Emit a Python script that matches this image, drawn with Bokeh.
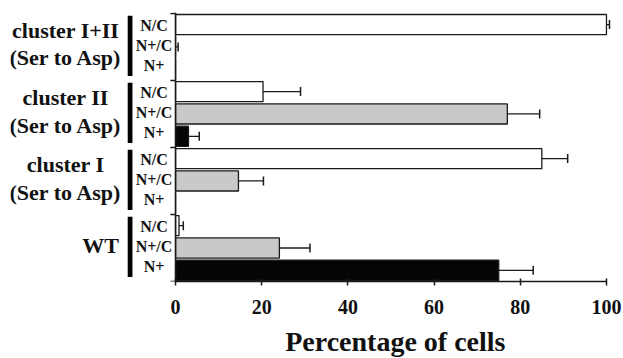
from bokeh.plotting import figure
from bokeh.layouts import column
from bokeh.models import Range1d, FixedTicker, Span, ColumnDataSource, Whisker, TeeHead
from bokeh.core.properties import value
from bokeh.embed import file_html
from bokeh.resources import INLINE

# ---- data (bottom group first) ----
groups = ["WT", "cluster I\n(Ser to Asp)", "cluster II\n(Ser to Asp)", "cluster I+II\n(Ser to Asp)"]
series = ["N/C", "N+/C", "N+"]
nc_vals = [0.8, 85.0, 20.3, 100.0]
npc_vals = [24.1, 14.6, 77.0, 0.0]
np_vals = [75.0, 0.0, 3.0, 0.0]
nc_err = [1.0, 6.0, 8.7, 0.7]
npc_err = [7.1, 5.8, 7.5, 0.6]
np_err = [8.0, 0.0, 2.5, 0.0]
x_ticks = [0, 20, 40, 60, 80, 100]
x_title = "Percentage of cells"

colors = ["#ffffff", "#c9c9c9", "#050505"]
FONT = "Liberation Serif"
ng = len(groups)
ns = len(series)
XR = (-38.3, 101.4)

p = figure(width=623, height=326, x_range=Range1d(*XR), y_range=Range1d(0, ng * ns + 0.04),
           output_backend="svg", toolbar_location=None, y_axis_location=None,
           min_border_left=10, min_border_right=11, min_border_top=12, min_border_bottom=45)
p.outline_line_color = None
p.grid.visible = False
p.background_fill_color = "white"
p.border_fill_color = "white"

vals = [nc_vals, npc_vals, np_vals]
errs = [nc_err, npc_err, np_err]

for s in range(ns):
    ys = [g * ns + (ns - 1 - s) + 0.5 for g in range(ng)]
    src = ColumnDataSource(dict(y=ys, v=vals[s]))
    p.hbar(y="y", left=0, right="v", height=0.9, source=src, fill_color=colors[s],
           line_color="#1a1a1a", line_width=1.3)
    wy, wl, wu = [], [], []
    for g in range(ng):
        if errs[s][g] > 0:
            wy.append(ys[g]); wl.append(vals[s][g]); wu.append(vals[s][g] + errs[s][g])
    wsrc = ColumnDataSource(dict(y=wy, lo=wl, hi=wu))
    p.add_layout(Whisker(source=wsrc, base="y", lower="lo", upper="hi", dimension="width",
                         lower_head=None, upper_head=TeeHead(size=9, line_width=1.5, line_color="#1a1a1a"),
                         line_width=1.3, line_color="#1a1a1a"))

# y axis line and group ticks
p.add_layout(Span(location=0, dimension="height", line_color="#1a1a1a", line_width=1.5))
bounds = [g * ns for g in range(ng + 1)]
p.segment(x0=[-1.2] * len(bounds), x1=[0] * len(bounds), y0=bounds, y1=bounds,
          line_color="#1a1a1a", line_width=1.5)

# black vertical group bars
p.quad(left=[-11.1] * ng, right=[-10.0] * ng, bottom=[g * ns + 0.2 for g in range(ng)],
       top=[g * ns + 2.9 for g in range(ng)], fill_color="black", line_color=None)

# sub labels
sx, sy, st = [], [], []
for g in range(ng):
    for s in range(ns):
        sx.append(-5.0)
        sy.append(g * ns + 1.5 + (1 - s) * 0.9 + 0.05)
        st.append(series[s])
p.text(x=sx, y=sy, text=st, text_align="center", text_baseline="middle",
       text_font=value(FONT), text_font_style="bold", text_font_size="16px", text_color="#111111")

# group labels
gx = [-17.4, -25.5, -25.5, -25.5]
p.text(x=gx, y=[g * ns + 1.5 + 0.12 for g in range(ng)], text=groups, text_align="center",
       text_baseline="middle", text_font=value(FONT), text_font_style="bold", text_font_size="22px",
       text_color="#111111", text_line_height=1.1)

# x axis
ax = p.xaxis[0]
ax.ticker = FixedTicker(ticks=x_ticks)
ax.bounds = (0, 100)
ax.axis_line_width = 1.5
ax.axis_line_color = "#1a1a1a"
ax.major_tick_line_color = "#1a1a1a"
ax.major_tick_line_width = 1.5
ax.major_tick_in = 3
ax.major_tick_out = 4
ax.minor_tick_line_color = None
ax.major_label_text_font = FONT
ax.major_label_text_font_style = "bold"
ax.major_label_text_font_size = "20px"
ax.major_label_text_color = "#111111"
ax.major_label_standoff = 14

# x-axis title strip, sharing the same x scale
t = figure(width=623, height=32, x_range=Range1d(*XR), y_range=Range1d(0, 32),
           output_backend="svg", toolbar_location=None, x_axis_location=None, y_axis_location=None,
           min_border_left=10, min_border_right=11, min_border_top=0, min_border_bottom=0)
t.outline_line_color = None
t.grid.visible = False
t.text(x=[51.0], y=[17.5], text=[x_title], text_align="center", text_baseline="alphabetic",
       text_font=value(FONT), text_font_style="bold", text_font_size="28px", text_color="#111111")

layout = column(p, t, spacing=0)
open("out.html", "w").write(file_html(layout, INLINE))
